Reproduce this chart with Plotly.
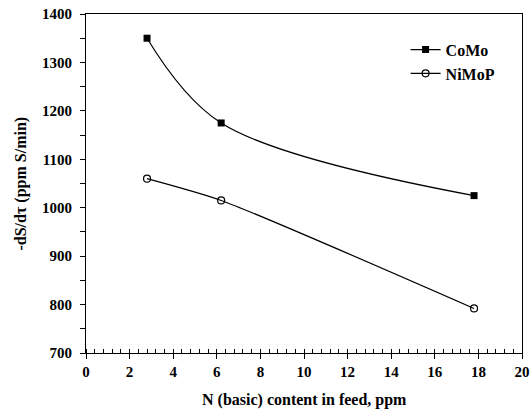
import plotly.graph_objects as go

n_feed = [2.8, 6.2, 17.8]
como = [1350, 1175, 1025]
nimop = [1060, 1015, 792]

FONT = "Liberation Serif"

fig = go.Figure()
fig.add_trace(go.Scatter(
    x=n_feed, y=como, name="<b>CoMo</b>", mode="lines+markers",
    line=dict(color="black", width=1.2, shape="spline", smoothing=1.0),
    marker=dict(symbol="square", size=7, color="black"),
))
fig.add_trace(go.Scatter(
    x=n_feed, y=nimop, name="<b>NiMoP</b>", mode="lines+markers",
    line=dict(color="black", width=1.2, shape="spline", smoothing=0.6),
    marker=dict(symbol="circle-open", size=7, color="black", line=dict(width=1.2)),
))

fig.update_layout(
    width=531, height=413,
    margin=dict(l=86, r=9, t=14, b=60, autoexpand=False),
    paper_bgcolor="white", plot_bgcolor="white",
    font=dict(family=FONT, size=15, color="black"),
    showlegend=True,
    legend=dict(x=0.733, y=0.945, xanchor="left", yanchor="top",
                bgcolor="rgba(0,0,0,0)", font=dict(size=16, family=FONT),
                itemwidth=30, tracegroupgap=0),
)
fig.add_annotation(text="<b>N (basic) content in feed, ppm</b>", x=0.5, y=0, xref="paper", yref="paper",
                   yshift=-47, showarrow=False, xanchor="center", yanchor="middle",
                   font=dict(size=16, family=FONT))
fig.add_annotation(text="<b>-dS/dτ (ppm S/min)</b>", x=0, y=0.5, xref="paper", yref="paper",
                   xshift=-66, textangle=-90, showarrow=False, xanchor="center", yanchor="middle",
                   font=dict(size=16, family=FONT))

fig.update_xaxes(
    range=[0, 20], dtick=2, tick0=0, automargin=False,
    showgrid=False, zeroline=False,
    showline=True, linecolor="black", linewidth=1.2, mirror=True,
    ticks="outside", ticklen=5, tickcolor="black", tickwidth=1,
    minor=dict(dtick=0.4, ticks="inside", ticklen=4, tickcolor="black", tickwidth=1),
    tickfont=dict(size=15, family=FONT),
    ticklabeloverflow="allow",
    tickprefix="<b>", ticksuffix="</b>",
)
fig.update_yaxes(
    range=[700, 1400], dtick=100, automargin=False,
    showgrid=False, zeroline=False,
    showline=True, linecolor="black", linewidth=1.2, mirror=True,
    ticks="outside", ticklen=5, tickcolor="black", tickwidth=1,
    minor=dict(dtick=50, ticks="outside", ticklen=5, tickcolor="black", tickwidth=1),
    tickfont=dict(size=15, family=FONT),
    ticklabelstandoff=5,
    ticklabeloverflow="allow",
    tickprefix="<b>", ticksuffix="</b>",
)

fig.write_html("out.html", config={"displayModeBar": False},
               post_script="document.body.style.margin='0';")
